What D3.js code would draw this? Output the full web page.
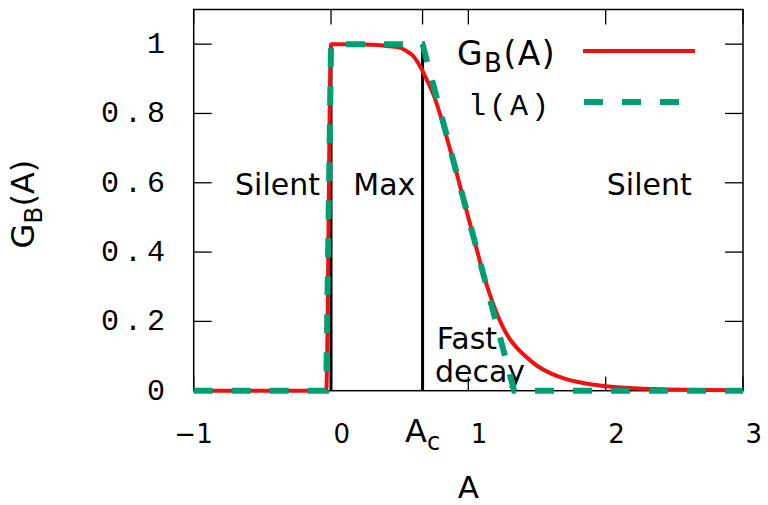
<!DOCTYPE html>
<html><head><meta charset="utf-8">
<script src="https://cdn.jsdelivr.net/npm/d3@7/dist/d3.min.js"></script>
<style>body{margin:0;background:#fff}svg{display:block}</style>
</head><body>
<svg id="chart" width="768" height="505"></svg>
<script>
// ---- data ----
const Ac = 2 / 3;
const gbA = [-1, -0.035, 0, 0.1, 0.2, 0.3, 0.4, 0.5, 0.55, 0.6, 0.65, 0.7, 0.75, 0.8, 0.85, 0.9, 0.95, 1.0, 1.05, 1.1, 1.15, 1.2, 1.25, 1.3, 1.35, 1.4, 1.5, 1.6, 1.7, 1.8, 1.9, 2.0, 2.2, 2.4, 2.7, 3.0];
const gbG = [0, 0, 1, 1, 1, 0.998, 0.995, 0.99, 0.98, 0.965, 0.935, 0.895, 0.85, 0.79, 0.72, 0.65, 0.575, 0.5, 0.425, 0.35, 0.285, 0.23, 0.185, 0.15, 0.125, 0.105, 0.072, 0.05, 0.035, 0.025, 0.018, 0.013, 0.007, 0.004, 0.002, 0.001];
const lA = [-1, -0.035, 0, Ac, 4 / 3, 3];
const lG = [0, 0, 1, 1, 0, 0];
const xTickValues = [-1, 0, 1, 2, 3];
const xTickLabels = ["−1", "0", "1", "2", "3"];
const yTickValues = [0, 0.2, 0.4, 0.6, 0.8, 1];
const yTickLabels = ["0", "0.2", "0.4", "0.6", "0.8", "1"];
const regionNames = ["Silent", "Max", "Silent", "Fast", "decay"];
const legendNames = ["G", "B", "(A)", "l(A)"];

// ---- layout ----
const svg = d3.select("#chart");
const x = d3.scaleLinear().domain([-1, 3]).range([193.7, 743]);
const y = d3.scaleLinear().domain([0, 1.1]).range([390.7, 9.5]);
const sans = "DejaVu Sans, sans-serif";
const mono = "Liberation Mono, monospace";
const RED = "#f01010", GREEN = "#009e73";

// frame
svg.append("rect").attr("x", x(-1)).attr("y", y(1.1))
  .attr("width", x(3) - x(-1)).attr("height", y(0) - y(1.1))
  .attr("fill", "none").attr("stroke", "#000").attr("stroke-width", 1.5);

// ticks (inward, mirrored)
const tk = svg.append("g").attr("stroke", "#000").attr("stroke-width", 1.3);
[...xTickValues, Ac].forEach(v => {
  tk.append("line").attr("x1", x(v)).attr("x2", x(v)).attr("y1", y(0)).attr("y2", y(0) - 14);
  tk.append("line").attr("x1", x(v)).attr("x2", x(v)).attr("y1", y(1.1)).attr("y2", y(1.1) + 15);
});
yTickValues.forEach(v => {
  tk.append("line").attr("x1", x(-1)).attr("x2", x(-1) + 18).attr("y1", y(v)).attr("y2", y(v));
  tk.append("line").attr("x1", x(3)).attr("x2", x(3) - 18).attr("y1", y(v)).attr("y2", y(v));
});

// x tick labels
xTickValues.forEach((v, i) => {
  svg.append("text").attr("x", x(v) + 19).attr("y", 443).attr("text-anchor", "end")
    .attr("font-family", sans).attr("font-size", 26).text(xTickLabels[i]);
});
// A_c label
const acT = svg.append("text").attr("x", x(Ac)).attr("y", 442).attr("text-anchor", "middle")
  .attr("font-family", sans).attr("font-size", 32);
acT.append("tspan").text("A");
acT.append("tspan").attr("dy", 8).attr("font-size", 24).text("c");

// y tick labels
yTickValues.forEach((v, i) => {
  svg.append("text").attr("x", 170).attr("y", y(v) + 9).attr("text-anchor", "end")
    .attr("font-family", mono).attr("font-size", 30).attr("letter-spacing", 5).text(yTickLabels[i]);
});

// axis titles
svg.append("text").attr("x", (x(-1) + x(3)) / 2).attr("y", 498).attr("text-anchor", "middle")
  .attr("font-family", sans).attr("font-size", 31).text("A");
const yl = svg.append("text").attr("transform", `translate(34,${(y(0) + y(1.1)) / 2 + 4}) rotate(-90)`)
  .attr("text-anchor", "middle").attr("font-family", sans).attr("font-size", 32);
yl.append("tspan").text("G");
yl.append("tspan").attr("dy", 8).attr("font-size", 25).text("B");
yl.append("tspan").attr("dy", -8).text("(A)");

// black vertical lines at A=0 and A=Ac
[0, Ac].forEach(v => {
  svg.append("line").attr("x1", x(v)).attr("x2", x(v)).attr("y1", y(0)).attr("y2", y(1))
    .attr("stroke", "#000").attr("stroke-width", 3);
});

// region labels
const rl = [[-0.699, 0.565], [0.162, 0.565], [2.008, 0.565], [0.77, 0.12], [0.757, 0.026]];
regionNames.forEach((t, i) => {
  svg.append("text").attr("x", x(rl[i][0])).attr("y", y(rl[i][1]))
    .attr("font-family", sans).attr("font-size", 30).text(t);
});

// curves
const gbData = gbA.map((a, i) => [a, gbG[i]]);
const lData = lA.map((a, i) => [a, lG[i]]);
svg.append("path").datum(gbData)
  .attr("d", d3.line().x(d => x(d[0])).y(d => y(d[1])).curve(d3.curveMonotoneX))
  .attr("fill", "none").attr("stroke", RED).attr("stroke-width", 4);
svg.append("path").datum(lData)
  .attr("d", d3.line().x(d => x(d[0])).y(d => y(d[1])))
  .attr("fill", "none").attr("stroke", GREEN).attr("stroke-width", 6).attr("stroke-dasharray", "19,19");

// legend
const lg1 = svg.append("text").attr("x", 457).attr("y", 65).attr("font-family", sans).attr("font-size", 33)
  .attr("letter-spacing", 1.5);
lg1.append("tspan").text(legendNames[0]);
lg1.append("tspan").attr("dy", 7).attr("font-size", 26).text(legendNames[1]);
lg1.append("tspan").attr("dy", -7).text(legendNames[2]);
svg.append("line").attr("x1", 583).attr("x2", 695).attr("y1", 51).attr("y2", 51)
  .attr("stroke", RED).attr("stroke-width", 4);
svg.append("text").attr("x", 468).attr("y", 115).attr("font-family", mono).attr("font-size", 30)
  .attr("letter-spacing", 3).text(legendNames[3]);
svg.append("line").attr("x1", 584).attr("x2", 679).attr("y1", 102).attr("y2", 102)
  .attr("stroke", GREEN).attr("stroke-width", 6).attr("stroke-dasharray", "19,19");
</script>
</body></html>
